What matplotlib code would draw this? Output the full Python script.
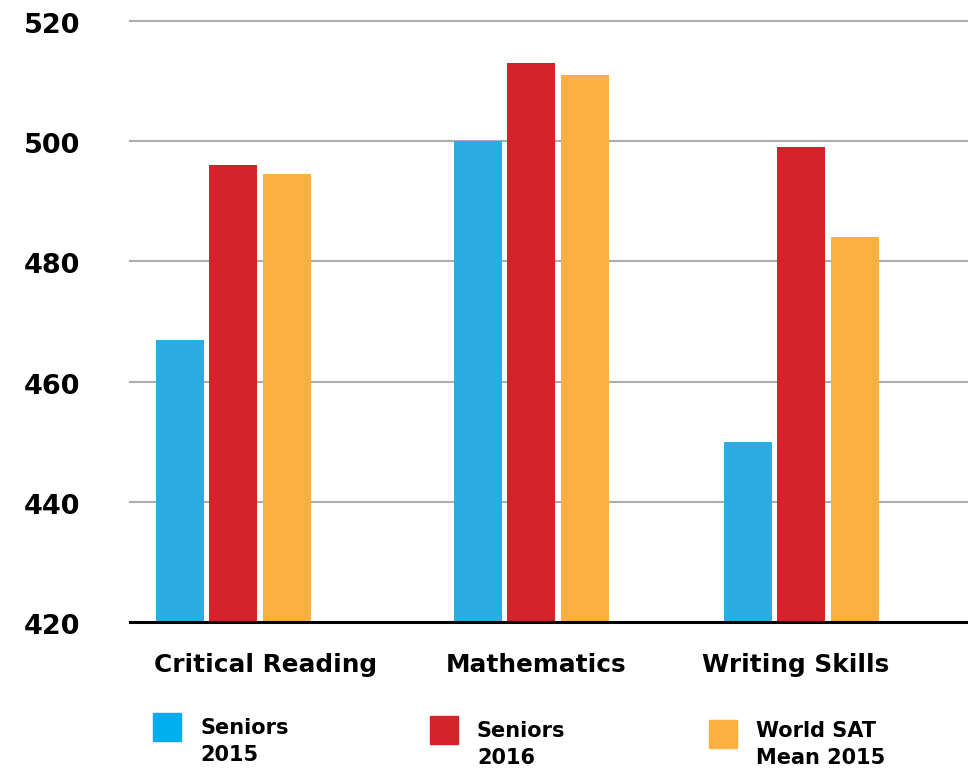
import matplotlib.pyplot as plt
import matplotlib.transforms as mtransforms
from matplotlib.patches import Rectangle

# data
categories = ['Critical Reading', 'Mathematics', 'Writing Skills']
seniors_2015 = [467, 500, 450]
seniors_2016 = [496, 513, 499]
world_mean_2015 = [494.5, 511, 484]
series_names = ['Seniors\n2015', 'Seniors\n2016', 'World SAT\nMean 2015']
y_ticks = [420, 440, 460, 480, 500, 520]

colors = ['#2BACE2', '#D4232B', '#FDB042']
legend_colors = ['#00AEEF', '#D4232B', '#FDB042']

plt.rcParams['font.family'] = ['DejaVu Sans']
plt.rcParams['font.weight'] = 'bold'

fig = plt.figure(figsize=(9.68, 7.7), dpi=100)
W, H = 968, 770
ax = fig.add_axes([130 / W, (H - 622) / H, 838 / W, 601 / H])

# group centres (pixel-like x units), bar width and offset
centres = [233, 531, 801]
bw = 48
step = 53.5
ax.set_xlim(130, 968)
ax.set_ylim(420, 520)

for i, vals in enumerate([seniors_2015, seniors_2016, world_mean_2015]):
    xs = [c + (i - 1) * step for c in centres]
    ax.bar(xs, [v - 420 for v in vals], width=bw, bottom=420,
           color=colors[i], zorder=3)

for t in y_ticks[1:]:
    ax.axhline(t, color='#ADADB0', lw=1.5, zorder=1, clip_on=False)
ax.axhline(420, color='black', lw=2.2, zorder=4, clip_on=False)

for s in ax.spines.values():
    s.set_visible(False)
ax.set_xticks([])
ax.set_yticks(y_ticks)
ax.set_yticklabels([str(t) for t in y_ticks], fontsize=19.5, fontweight='bold')
ax.tick_params(axis='y', length=0, pad=36)
shift = mtransforms.ScaledTranslation(0, -1.5 / 72, fig.dpi_scale_trans)
for lbl in ax.get_yticklabels():
    lbl.set_transform(lbl.get_transform() + shift)

# category labels
label_x = [266, 536, 796]
for x, name in zip(label_x, categories):
    fig.text(x / W, 1 - 672 / H, name, ha='center', va='baseline',
             fontsize=17.8, fontweight='bold')

# legend squares and texts (y of the second text line's baseline)
sq_pos = [(153, 713), (430, 716), (709, 720)]
text_base = [761, 764, 764]
for (sx, sy), yb, c, name in zip(sq_pos, text_base, legend_colors, series_names):
    fig.patches.append(Rectangle((sx / W, 1 - (sy + 28) / H), 28 / W, 28 / H,
                                 transform=fig.transFigure, color=c))
    fig.text((sx + 47) / W, 1 - yb / H, name, ha='left', va='baseline',
             fontsize=15, fontweight='bold', linespacing=1.45)

fig.savefig('out.png', dpi=100)
